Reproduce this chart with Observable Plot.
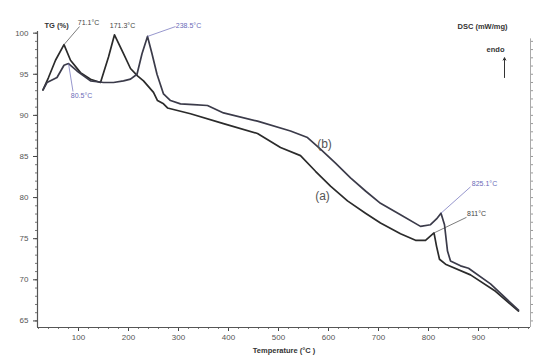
<!DOCTYPE html>
<html>
<head>
<meta charset="utf-8">
<script src="https://cdn.jsdelivr.net/npm/d3@7"></script>
<script src="https://cdn.jsdelivr.net/npm/@observablehq/plot@0.6"></script>
<style>
  html, body { margin: 0; padding: 0; background: #fff; }
  #chart svg { display: block; }
</style>
</head>
<body>
<div id="chart"></div>
<script>
// Curve (a): TG vs temperature
const tempA = [29, 40, 54, 71, 84, 104, 124, 144, 160, 172, 190, 204, 218, 230, 250, 258, 270, 278, 324, 390, 458, 504, 544, 574, 604, 638, 674, 704, 744, 774, 794, 811, 816, 822, 834, 884, 934, 980];
const tgA   = [93.1, 94.6, 96.7, 98.6, 96.7, 95.2, 94.4, 94.0, 97.1, 99.8, 97.5, 95.7, 94.8, 94.2, 92.8, 91.8, 91.4, 90.9, 90.2, 89.0, 87.8, 86.1, 85.1, 83.2, 81.4, 79.6, 78.1, 76.9, 75.6, 74.8, 74.8, 75.7, 74.1, 72.5, 71.9, 70.6, 68.6, 66.2];

// Curve (b)
const tempB = [29, 37, 57, 71, 80, 97, 124, 150, 170, 190, 204, 217, 227, 238, 247, 257, 270, 284, 304, 330, 358, 390, 458, 524, 558, 584, 614, 644, 674, 704, 744, 784, 804, 816, 825, 832, 838, 844, 864, 880, 924, 980];
const tgB   = [93.1, 94.0, 94.6, 96.1, 96.3, 95.4, 94.2, 94.0, 94.0, 94.2, 94.4, 95.0, 97.5, 99.6, 97.5, 95.0, 92.6, 91.8, 91.4, 91.3, 91.2, 90.3, 89.3, 88.1, 87.3, 85.9, 84.2, 82.4, 80.8, 79.3, 77.9, 76.5, 76.7, 77.4, 78.1, 76.7, 73.5, 72.3, 71.7, 71.4, 69.5, 66.3];

// Axis ticks
const xTicks = [100, 200, 300, 400, 500, 600, 700, 800, 900];
const yTicks = [65, 70, 75, 80, 85, 90, 95, 100];

// Peak annotations
const peakCurve = ["a", "a", "b", "b", "b", "a"];
const peakTemp  = [71, 172, 238, 80, 825, 811];
const peakText  = ["71.1°C", "171.3°C", "238.5°C", "80.5°C", "825.1°C", "811°C"];

const xDomain = [18, 1004];
const yDomain = [64.2, 100.2];

const rows = [
  ...tempA.map((t, i) => ({curve: "a", T: t, TG: tgA[i]})),
  ...tempB.map((t, i) => ({curve: "b", T: t, TG: tgB[i]}))
];
const lookup = (c, t) => rows.find(r => r.curve === c && r.T === t).TG;

// annotation layout (offsets in data units)
const annLayout = [
  {lx: 31, ly: 2.2, tx: 49, ty: 2.7, color: "#444"},
  {lx: 0, ly: 0, tx: 16, ty: 1.1, color: "#444"},
  {lx: 56, ly: 1.2, tx: 82, ty: 1.3, color: "#6a6ab8"},
  {lx: 9, ly: -3.4, tx: 26, ty: -3.9, color: "#6a6ab8"},
  {lx: 59, ly: 3.2, tx: 87, ty: 3.6, color: "#6a6ab8"},
  {lx: 65, ly: 1.9, tx: 85, ty: 2.3, color: "#444"}
];
const ann = peakText.map((txt, i) => {
  const T = peakTemp[i], TG = lookup(peakCurve[i], T), L = annLayout[i];
  return {txt, T, TG, x2: T + L.lx, y2: TG + L.ly, tx: T + L.tx, ty: TG + L.ty, color: L.color, leader: L.lx !== 0};
});

const font = "'Liberation Sans', Arial, sans-serif";

const chart = Plot.plot({
  width: 538,
  height: 358,
  marginLeft: 37,
  marginRight: 8,
  marginTop: 31,
  marginBottom: 31,
  style: {fontFamily: font, fontSize: "8px", color: "#444", background: "#fff"},
  x: {domain: xDomain},
  y: {domain: yDomain},
  marks: [
    // minor ticks
    Plot.axisX({ticks: d3.range(20, 1001, 20), tickSize: 2, tickFormat: () => "", stroke: "#777"}),
    Plot.axisY({ticks: d3.range(65, 101, 1), tickSize: 2, tickFormat: () => "", stroke: "#777"}),
    Plot.axisY({anchor: "right", ticks: d3.range(65, 100, 1), tickSize: 2, tickFormat: () => "", stroke: "#999"}),
    // major ticks
    Plot.axisX({ticks: xTicks, tickSize: 4, tickPadding: 3, label: null, fill: "#555"}),
    Plot.axisY({ticks: yTicks, tickSize: 4, tickPadding: 5, label: null, fill: "#555"}),
    // axis lines
    Plot.ruleX([xDomain[0]], {stroke: "#555", strokeWidth: 1.2}),
    Plot.ruleY([yDomain[0]], {stroke: "#555", strokeWidth: 1.2}),
    Plot.ruleX([xDomain[1]], {y1: yDomain[0], y2: 99.3, stroke: "#aaa"}),
    // curves
    Plot.line(rows.filter(r => r.curve === "a"), {x: "T", y: "TG", stroke: "#2b2b2b", strokeWidth: 1.7}),
    Plot.line(rows.filter(r => r.curve === "b"), {x: "T", y: "TG", stroke: "#3b3b4a", strokeWidth: 1.7}),
    // peak leaders and labels
    Plot.link(ann.filter(d => d.leader), {x1: "T", y1: "TG", x2: "x2", y2: "y2", stroke: "color", strokeWidth: 0.7}),
    Plot.text(ann, {x: "tx", y: "ty", text: "txt", fill: "color", fontSize: 7}),
    // curve labels
    Plot.text(["(b)"], {x: 592, y: 86.5, text: d => d, fontSize: 12, fill: "#555"}),
    Plot.text(["(a)"], {x: 588, y: 80.2, text: d => d, fontSize: 12, fill: "#555"}),
    // axis titles
    Plot.text(["TG (%)"], {frameAnchor: "top-left", dx: 7, dy: -9, text: d => d, fontWeight: "bold", fontSize: 7.5, fill: "#333"}),
    Plot.text(["DSC (mW/mg)"], {frameAnchor: "top-right", dx: -23, dy: -8, text: d => d, fontWeight: "bold", fontSize: 7.5, fill: "#333"}),
    Plot.text(["endo"], {frameAnchor: "top-right", dx: -26, dy: 15, text: d => d, fontWeight: "bold", fontSize: 7.5, fill: "#333"}),
    Plot.arrow([{T: 952}], {x1: "T", x2: "T", y1: 94.6, y2: 97.0, stroke: "#333", strokeWidth: 1, headLength: 4}),
    Plot.text(["Temperature (°C )"], {frameAnchor: "bottom", dy: 25, text: d => d, fontWeight: "bold", fontSize: 7.5, fill: "#333"})
  ]
});
document.getElementById("chart").appendChild(chart);
</script>
</body>
</html>
